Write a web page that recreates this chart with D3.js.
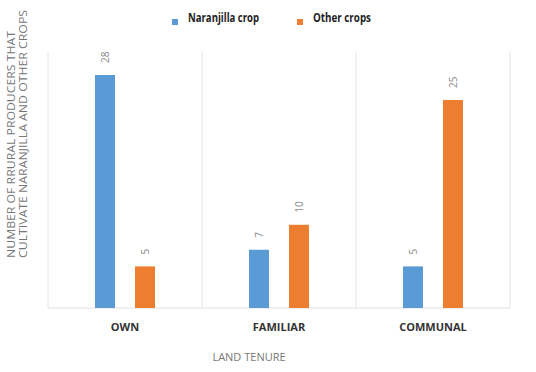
<!DOCTYPE html>
<html>
<head>
<meta charset="utf-8">
<script src="https://d3js.org/d3.v7.min.js"></script>
<style>
  body { margin: 0; background: #fff; }
  text { font-family: "Open Sans", "Liberation Sans", sans-serif; }
</style>
</head>
<body>
<div id="chart"></div>
<script>
// data
var categories = ["OWN", "FAMILIAR", "COMMUNAL"];
var seriesNames = ["Naranjilla crop", "Other crops"];
var naranjilla = [28, 7, 5];
var otherCrops = [5, 10, 25];
var colors = ["#5b9bd5", "#ed7d31"];

var W = 536, H = 372;
var m = { top: 52, right: 26, bottom: 64, left: 48 };

var svg = d3.select("#chart").append("svg")
  .attr("width", W).attr("height", H);

var x0 = d3.scaleBand().domain(categories)
  .range([m.left, W - m.right]).padding(0);
var x1 = d3.scaleBand().domain(seriesNames)
  .range([0, x0.bandwidth()]).paddingInner(0.5).paddingOuter(1.175);
var y = d3.scaleLinear().domain([0, 28]).range([H - m.bottom, 75]);

// category separators
var g = svg.append("g");
categories.concat(["end"]).forEach(function(c, i) {
  var xx = i < categories.length ? x0(c) : x0.range()[1];
  g.append("line").attr("x1", xx).attr("x2", xx)
    .attr("y1", m.top).attr("y2", H - m.bottom)
    .attr("stroke", "#e4e4e4").attr("stroke-width", 1);
});
g.append("line").attr("x1", m.left).attr("x2", W - m.right)
  .attr("y1", H - m.bottom).attr("y2", H - m.bottom)
  .attr("stroke", "#e0e0e0");

var rows = categories.map(function(c, i) {
  return { cat: c, vals: [naranjilla[i], otherCrops[i]] };
});

var grp = svg.selectAll(".grp").data(rows).enter().append("g")
  .attr("transform", function(d) { return "translate(" + x0(d.cat) + ",0)"; });

grp.selectAll("rect").data(function(d) { return d.vals; }).enter().append("rect")
  .attr("x", function(d, i) { return x1(seriesNames[i]); })
  .attr("y", function(d) { return y(d); })
  .attr("width", x1.bandwidth())
  .attr("height", function(d) { return y(0) - y(d); })
  .attr("fill", function(d, i) { return colors[i]; });

grp.selectAll(".val").data(function(d) { return d.vals; }).enter().append("text")
  .attr("transform", function(d, i) {
    var cx = x1(seriesNames[i]) + x1.bandwidth() / 2 + 4;
    return "translate(" + cx + "," + (y(d) - 12) + ") rotate(-90)";
  })
  .attr("text-anchor", "start")
  .attr("font-size", 10).attr("fill", "#888")
  .text(function(d) { return d; });

// category labels
svg.selectAll(".cat").data(categories).enter().append("text")
  .attr("x", function(d) { return x0(d) + x0.bandwidth() / 2; })
  .attr("y", H - m.bottom + 23)
  .attr("text-anchor", "middle")
  .attr("font-size", 11).attr("font-weight", "bold").attr("fill", "#333")
  .text(function(d) { return d; });

// x title
svg.append("text").attr("x", 249).attr("y", 361)
  .attr("text-anchor", "middle").attr("font-size", 11).attr("fill", "#777")
  .text("LAND TENURE");

// y title
var yt = svg.append("text").attr("transform", "translate(0,258) rotate(-90)")
  .attr("text-anchor", "start").attr("font-size", 11.5).attr("fill", "#777");
yt.append("tspan").attr("x", 0).attr("y", 15).attr("textLength", 227)
  .attr("lengthAdjust", "spacingAndGlyphs").text("NUMBER OF RRURAL PRODUCERS THAT");
yt.append("tspan").attr("x", 0).attr("y", 27).attr("textLength", 248)
  .attr("lengthAdjust", "spacingAndGlyphs").text("CULTIVATE NARANJILLA AND OTHER CROPS");

// legend
var lx = [172, 297];
var lw = [71, 58];
seriesNames.forEach(function(s, i) {
  svg.append("rect").attr("x", lx[i]).attr("y", 19).attr("width", 6).attr("height", 6)
    .attr("fill", colors[i]);
  svg.append("text").attr("x", lx[i] + 16).attr("y", 19)
    .attr("font-size", 12).attr("font-weight", "bold").attr("fill", "#222")
    .attr("dominant-baseline", "middle")
    .attr("textLength", lw[i]).attr("lengthAdjust", "spacingAndGlyphs")
    .text(s);
});
</script>
</body>
</html>
